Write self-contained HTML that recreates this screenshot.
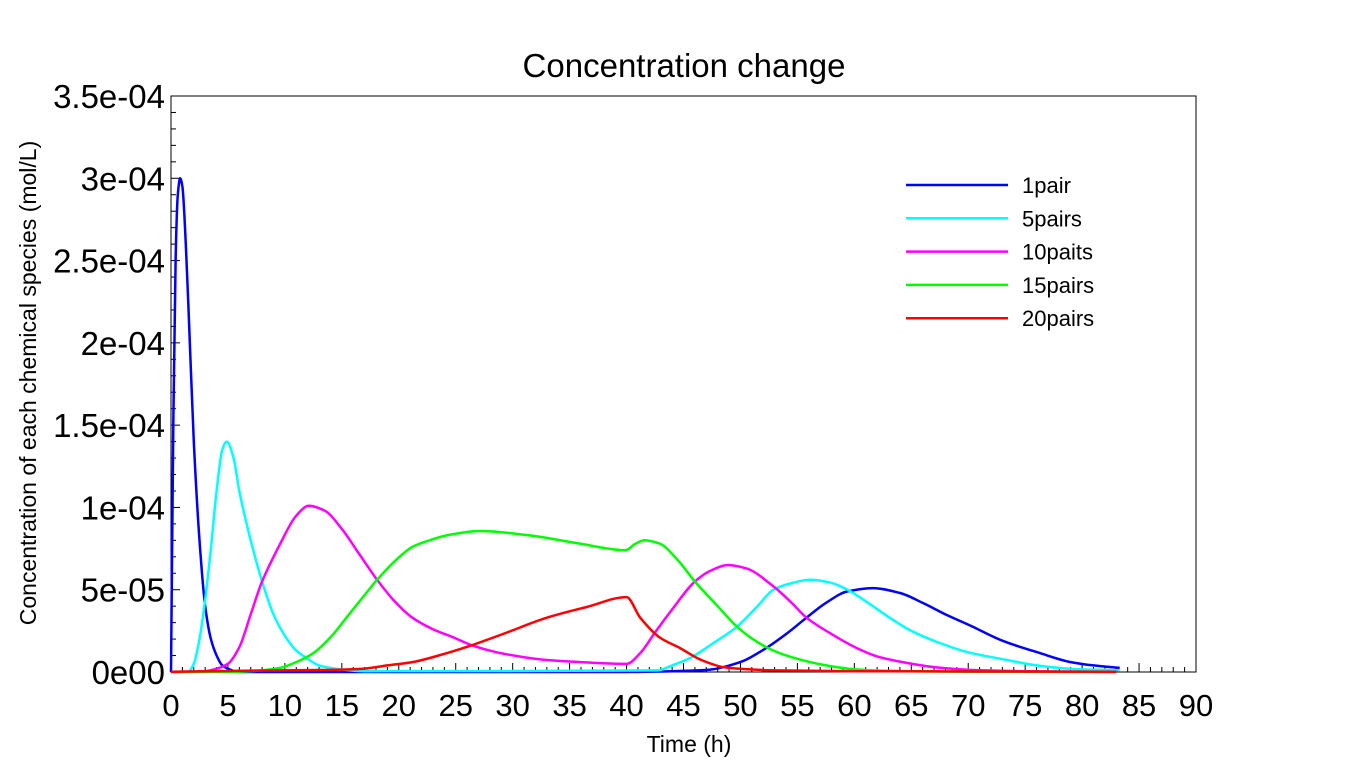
<!DOCTYPE html>
<html><head><meta charset="utf-8"><style>
body{margin:0;background:#fff}
svg text{font-family:"Liberation Sans",sans-serif}
</style></head><body>
<svg id="chart" width="1368" height="768">
<rect width="1368" height="768" fill="#fff"/>
<text x="684" y="77" text-anchor="middle" font-size="33">Concentration change</text>
<rect x="171" y="96" width="1025" height="576" fill="none" stroke="#000" stroke-width="1"/>
<g id="axes"></g>
<g id="series"></g>
<text x="689" y="752" text-anchor="middle" font-size="23">Time (h)</text>
<text transform="translate(36,383) rotate(-90)" text-anchor="middle" font-size="23">Concentration of each chemical species (mol/L)</text>
<g id="legend"></g>
</svg>
<script>
const seriesNames=["1pair","5pairs","10paits","15pairs","20pairs"];
const seriesColors=["#0000ff","#00ffff","#ff00ff","#00ff00","#ff0000"];
const xTicks=[0,5,10,15,20,25,30,35,40,45,50,55,60,65,70,75,80,85,90];
const yTicks=[0,5e-5,1e-4,1.5e-4,2e-4,2.5e-4,3e-4,3.5e-4];
const yTickLabels=["0e00","5e-05","1e-04","1.5e-04","2e-04","2.5e-04","3e-04","3.5e-04"];
// times (h) and values (x1e-5 mol/L)
const t1=[0,0.2,0.4,0.6,0.8,1.0,1.3,1.6,2,2.5,3,3.5,4,4.5,5,6,40,44,47,50,52,54,55.8,57.5,59.4,61.6,64,66,68,70.4,73,76.3,79,81,83.3];
const v1=[0,15,25,29,30,29.5,26,21,14,8,4,2,1,0.4,0.2,0,0,0.05,0.12,0.6,1.34,2.3,3.3,4.2,4.9,5.1,4.8,4.2,3.5,2.75,1.9,1.15,0.6,0.4,0.25];
const t2=[0,1.5,2,2.5,3,3.5,4,4.5,4.9,5.5,6,7,8,9,10,11,12,13,15,17,42.7,44,45.6,47.5,49.7,51.5,52.9,54.5,56.1,57.8,59.4,61,63.1,65,67.5,70,73.4,76,79.2,83.3];
const v2=[0,0,0.5,2,4.4,7.5,11,13.5,14,13,11,8,5.5,3.5,2.2,1.3,0.8,0.4,0.15,0.05,0.1,0.4,0.85,1.7,2.75,4,5,5.4,5.6,5.45,5.0,4.3,3.3,2.5,1.76,1.2,0.73,0.4,0.18,0.1];
const t3=[0,3,4,5,6,7,8,9.6,11,12.1,13.5,15,16.5,18.1,19.5,21.2,23,24.8,26.5,28.6,31,33,36,40,41.2,42.5,44,46,47.5,48.9,50.5,52.9,54.5,55.8,58,60.2,62,64.6,67,70.4,75,83];
const v3=[0,0.05,0.2,0.5,1.5,3.5,5.5,7.8,9.5,10.1,9.8,8.7,7.2,5.6,4.4,3.3,2.6,2.1,1.6,1.2,0.9,0.73,0.6,0.49,1.15,2.4,3.8,5.5,6.2,6.5,6.3,5.2,4.2,3.3,2.3,1.46,0.95,0.55,0.3,0.12,0.05,0];
const t4=[0,5,8,9.6,11,12.5,14,15.4,16.8,18.1,19.6,21.2,22.7,24.2,27.1,31.5,35.9,39.9,40.8,41.6,42.9,44.5,46,48,49.7,51.3,52.9,55,57.3,59.5,61.6,65,70,83];
const v4=[0,0,0.1,0.25,0.6,1.15,2.1,3.3,4.5,5.6,6.7,7.6,8.0,8.3,8.57,8.3,7.8,7.4,7.8,8.0,7.8,6.8,5.5,4.0,2.75,1.9,1.3,0.8,0.43,0.2,0.1,0.05,0.02,0];
const t5=[0,9.6,13,16.9,19,21.2,23.5,26.3,29.5,33,36.5,40,41.2,42.9,44.7,46.5,48.5,51,53,60,83];
const v5=[0.02,0.1,0.12,0.2,0.4,0.6,1.0,1.6,2.4,3.3,3.95,4.55,3.3,2.1,1.45,0.75,0.3,0.15,0.1,0.05,0.02];
const allT=[t1,t2,t3,t4,t5], allV=[v1,v2,v3,v4,v5];
const X0=171,X1=1196,Y0=672,Y1=96;
const xs=t=>X0+(t/90)*(X1-X0);
const ys=v=>Y0-(v/3.5e-4)*(Y0-Y1);
const NS="http://www.w3.org/2000/svg";
const axes=document.getElementById('axes');
function mk(tag,attrs,parent){const e=document.createElementNS(NS,tag);for(const k in attrs)e.setAttribute(k,attrs[k]);parent.appendChild(e);return e;}
for(let i=0;i<=90;i++){
  const x=xs(i),maj=i%5===0;
  const tk=mk('line',{x1:x,x2:x,y1:Y0,y2:Y0-(maj?9:5),stroke:'#000','stroke-width':1},axes);
  
  
}
xTicks.forEach(v=>{
  const tx=mk('text',{x:xs(v),y:716,'text-anchor':'middle','font-size':31},axes);
  tx.textContent=v;
  
  
});
for(let i=0;i<=35;i++){
  const y=ys(i*1e-5),maj=i%5===0;
  const tk=mk('line',{x1:X0,x2:X0+(maj?9:5),y1:y,y2:y,stroke:'#000','stroke-width':1},axes);
  
  
}
yTicks.forEach((v,i)=>{
  const tx=mk('text',{x:165,y:ys(v)+12,'text-anchor':'end','font-size':33},axes);
  tx.textContent=yTickLabels[i];
  
  
});
// monotone cubic path through screen points
function smoothPath(px,py){
  const n=px.length,m=new Array(n),d=[];
  for(let i=0;i<n-1;i++)d.push((py[i+1]-py[i])/((px[i+1]-px[i])||1e-6));
  m[0]=d[0];m[n-1]=d[n-2];
  for(let i=1;i<n-1;i++)m[i]=(d[i-1]*d[i]<=0)?0:(2/(1/d[i-1]+1/d[i]))/1;
  let s='M'+px[0].toFixed(1)+','+py[0].toFixed(1);
  for(let i=0;i<n-1;i++){
    const h=px[i+1]-px[i];
    s+=' C'+(px[i]+h/3).toFixed(1)+','+(py[i]+m[i]*h/3).toFixed(1)+' '+(px[i+1]-h/3).toFixed(1)+','+(py[i+1]-m[i+1]*h/3).toFixed(1)+' '+px[i+1].toFixed(1)+','+py[i+1].toFixed(1);
  }
  return s;
}
const sg=document.getElementById('series');
allT.forEach((ts,s)=>{
  const px=ts.map(xs),py=allV[s].map(v=>ys(v*1e-5));
  const p=mk('path',{d:smoothPath(px,py),fill:'none',stroke:seriesColors[s],'stroke-width':2.5,'stroke-linejoin':'round'},sg);
  
  
});
const lg=document.getElementById('legend');
seriesNames.forEach((n,i)=>{
  const y=185+i*33.3;
  const ln=mk('line',{x1:906,x2:1008,y1:y,y2:y,stroke:seriesColors[i],'stroke-width':2.5},lg);
  
  
  const tx=mk('text',{x:1022,y:y+8,'font-size':22},lg);
  tx.textContent=n;
  
  
});
</script>
</body></html>
